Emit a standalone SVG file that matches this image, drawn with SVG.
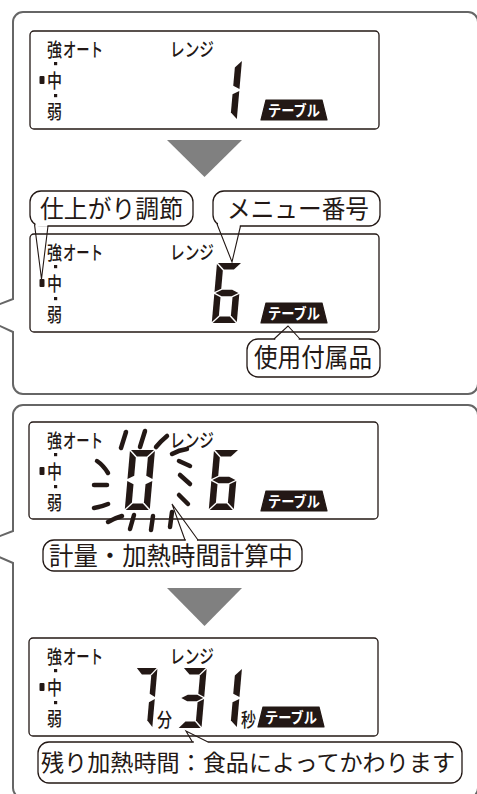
<svg xmlns="http://www.w3.org/2000/svg" width="477" height="794" viewBox="0 0 477 794">
<style>
.panel{fill:none;stroke:#666;stroke-width:2}
.lcd{fill:#fff;stroke:#231815;stroke-width:1.3}
.arrow{fill:#808080}
.bubble{fill:#fff;stroke:#231815;stroke-width:1.3}
.lbl{font-family:"Noto Sans CJK JP",sans-serif;font-size:19px;font-weight:500;fill:#231815}
.big{font-family:"Noto Sans CJK JP",sans-serif;font-size:25px;fill:#231815}
.badge{fill:#231815;stroke:#231815;stroke-width:1.2;stroke-linejoin:round}
.btxt{font-family:"Noto Sans CJK JP",sans-serif;font-size:15px;font-weight:bold;fill:#fff}
.seg{fill:#231815}
.dot{fill:#231815}
.dash{fill:none;stroke:#231815;stroke-width:4.5;stroke-linecap:round}
.tail{fill:none;stroke:#231815;stroke-width:1.1}
.cover{fill:#fff}
</style>
<defs>
<path id="sa" class="seg" d="M1,0H24L17.5,6.5H7.5Z"/>
<path id="sd" class="seg" d="M7.5,53.5H17.5L24,60H1Z"/>
<path id="sg" class="seg" d="M1,30L7.5,26.75H17.5L24,30L17.5,33.25H7.5Z"/>
<path id="sf" class="seg" d="M0,1L6.5,7.5V25.75L0,29Z"/>
<path id="sb" class="seg" d="M25,1V29L18.5,25.75V7.5Z"/>
<path id="se" class="seg" d="M0,31L6.5,34.25V52.5L0,59Z"/>
<path id="sc" class="seg" d="M25,31V59L18.5,52.5V34.25Z"/>
<g id="d0"><use href="#sa"/><use href="#sb"/><use href="#sc"/><use href="#sd"/><use href="#se"/><use href="#sf"/></g>
<g id="d1"><use href="#sb"/><use href="#sc"/></g>
<g id="d3"><use href="#sa"/><use href="#sb"/><use href="#sg"/><use href="#sc"/><use href="#sd"/></g>
<g id="d6"><use href="#sa"/><use href="#sf"/><use href="#sg"/><use href="#se"/><use href="#sd"/><use href="#sc"/></g>
<g id="d7"><use href="#sa"/><use href="#sb"/><use href="#sc"/></g>
<g id="lcdlabels">
<text class="lbl" x="47" y="26" textLength="15" lengthAdjust="spacingAndGlyphs">強</text>
<text class="lbl" x="63" y="26" textLength="40" lengthAdjust="spacingAndGlyphs">オート</text>
<text class="lbl" x="170" y="26" textLength="44" lengthAdjust="spacingAndGlyphs">レンジ</text>
<rect class="dot" x="54" y="31" width="3.2" height="3.2"/>
<rect class="dot" x="39.5" y="45" width="5" height="8" rx="1"/>
<text class="lbl" x="47" y="57" textLength="15" lengthAdjust="spacingAndGlyphs">中</text>
<rect class="dot" x="54" y="63" width="3.2" height="3.2"/>
<text class="lbl" x="47" y="88" textLength="15" lengthAdjust="spacingAndGlyphs">弱</text>
</g>
<g id="badge">
<path class="badge" d="M5,0H61L66,20H0Z"/>
<text class="btxt" x="7" y="16" textLength="52" lengthAdjust="spacingAndGlyphs">テーブル</text>
</g>
</defs>
<rect width="477" height="794" fill="#fff"/>

<g id="panel1">
<path class="panel" d="M13,299V22A10,10 0 0 1 23,12H468A10,10 0 0 1 478,22V384A10,10 0 0 1 468,394H23A10,10 0 0 1 13,384V332L-26,314Z"/>
</g>
<g id="panel2">
<path class="panel" d="M13,531V415A10,10 0 0 1 23,405H468A10,10 0 0 1 478,415V788A10,10 0 0 1 468,798H23A10,10 0 0 1 13,788V563L-26,546Z"/>
</g>

<g id="lcd1">
<rect class="lcd" x="30" y="31" width="349" height="98" rx="4"/>
<use href="#lcdlabels" y="31"/>
<use href="#d1" transform="translate(217,60) skewX(-5)"/>
<use href="#badge" x="261" y="100"/>
</g>

<g id="arrow1"><polygon class="arrow" points="167,140 242,140 204.5,177"/></g>

<g id="lcd2">
<rect class="lcd" x="30" y="234" width="349" height="98" rx="4"/>
<use href="#lcdlabels" y="234"/>
<use href="#d6" transform="translate(217,263) skewX(-5)"/>
<use href="#badge" x="261" y="303"/>
</g>

<g id="label-shiagari">
<rect class="bubble" x="30" y="191" width="163" height="35" rx="11"/>
<text class="big" x="40" y="218" textLength="143" lengthAdjust="spacingAndGlyphs">仕上がり調節</text>
</g>
<g id="label-menu">
<rect class="bubble" x="213" y="191" width="167" height="35" rx="11"/>
<text class="big" x="227" y="218" textLength="142" lengthAdjust="spacingAndGlyphs">メニュー番号</text>
</g>
<g id="label-fuzoku">
<rect class="bubble" x="247" y="339" width="133" height="38" rx="11"/>
<text class="big" x="254" y="367" style="font-size:26px" textLength="118" lengthAdjust="spacingAndGlyphs">使用付属品</text>
</g>

<g id="lcd3">
<rect class="lcd" x="29" y="422" width="349" height="97" rx="4"/>
<use href="#lcdlabels" y="422"/>
<use href="#d0" transform="translate(130,450) skewX(-5)"/>
<use href="#d6" transform="translate(214,450) skewX(-5)"/>
<use href="#badge" x="261" y="491"/>
<g id="flash">
<path class="dash" d="M97,461Q103,465 108,473"/>
<path class="dash" d="M94,485L107,485"/>
<path class="dash" d="M94,508Q101,507 108,504"/>
<path class="dash" d="M108,522Q115,518 122,516"/>
<path class="dash" d="M130,529L134,515"/>
<path class="dash" d="M151,530L153,516"/>
<path class="dash" d="M170,527L172,512"/>
<path class="dash" d="M179,495L188,504"/>
<path class="dash" d="M180,475L190,484"/>
<path class="dash" d="M179,461L190,466"/>
<path class="dash" d="M172,454Q179,450 187,449"/>
<path class="dash" d="M156,447Q161,441 167,436"/>
<path class="dash" d="M140,447L145,431"/>
<path class="dash" d="M121,448L126,432"/>
</g>
</g>

<g id="label-keisan">
<rect class="bubble" x="43" y="540" width="259" height="31" rx="11"/>
<text class="big" x="49" y="565" style="font-size:25px" textLength="244" lengthAdjust="spacingAndGlyphs">計量・加熱時間計算中</text>
</g>

<g id="arrow2"><polygon class="arrow" points="167,588 242,588 204.5,626"/></g>

<g id="lcd4">
<rect class="lcd" x="29" y="638" width="349" height="98" rx="4"/>
<use href="#lcdlabels" y="638"/>
<use href="#d7" transform="translate(136,668) skewX(-5) scale(0.86,1)"/>
<text class="lbl" x="157" y="727" textLength="15" lengthAdjust="spacingAndGlyphs">分</text>
<use href="#d3" transform="translate(183,668) skewX(-5) scale(0.95,1)"/>
<use href="#d1" transform="translate(217,668) skewX(-5)"/>
<text class="lbl" x="241" y="727" textLength="15" lengthAdjust="spacingAndGlyphs">秒</text>
<use href="#badge" x="258" y="707"/>
</g>

<g id="label-nokori">
<rect class="bubble" x="38" y="742" width="424" height="41" rx="11"/>
<text class="big" x="41" y="771" style="font-size:23px" textLength="414" lengthAdjust="spacingAndGlyphs">残り加熱時間：食品によってかわります</text>
</g>

<g id="connectors">
<rect class="cover" x="35.5" y="223.2" width="11.9" height="3.6"/>
<path class="tail" d="M34.5,224.4L41.5,279L48,226"/>
<rect class="cover" x="218" y="223" width="21.8" height="4.2"/>
<path class="tail" d="M217,224L232,262L240.5,226"/>
<rect class="cover" x="275.3" y="337.6" width="23.4" height="2.8"/>
<path class="tail" d="M274,339L288,326L300,339"/>
<rect class="cover" x="185.8" y="538.6" width="11.2" height="2.8"/>
<path class="tail" d="M185,540L172,504L198,540"/>
<rect class="cover" x="193.8" y="740.6" width="14" height="2.8"/>
<path class="tail" d="M192.4,742L186,731L208,742"/>
</g>
</svg>
